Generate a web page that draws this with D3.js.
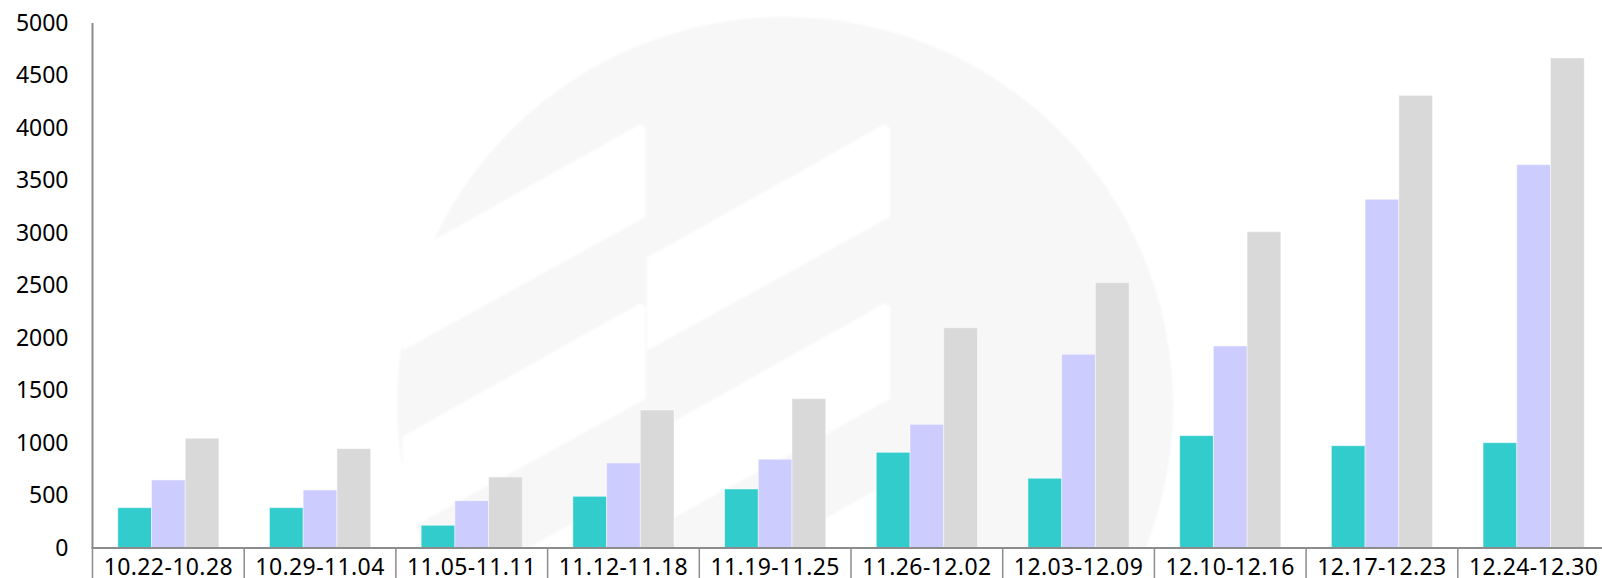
<!DOCTYPE html>
<html>
<head>
<meta charset="utf-8">
<script src="https://cdn.jsdelivr.net/npm/d3@7"></script>
<style>
  html, body { margin: 0; padding: 0; background: #fff; overflow: hidden; }
  svg { display: block; }
  text { font-family: "Noto Sans", "DejaVu Sans", sans-serif; fill: #000; }
</style>
</head>
<body>
<div id="chart"></div>
<script>
// Data
const weeks = ["10.22-10.28", "10.29-11.04", "11.05-11.11", "11.12-11.18", "11.19-11.25",
               "11.26-12.02", "12.03-12.09", "12.10-12.16", "12.17-12.23", "12.24-12.30"];
const seriesNames = ["s1", "s2", "s3"];
const s1Values = [384, 384, 216, 492, 562, 911, 664, 1070, 974, 1003];
const s2Values = [648, 552, 450, 810, 845, 1178, 1845, 1924, 3321, 3651];
const s3Values = [1045, 946, 676, 1314, 1422, 2098, 2527, 3012, 4311, 4667];
const yTicks = [0, 500, 1000, 1500, 2000, 2500, 3000, 3500, 4000, 4500, 5000];
const colors = ["#33cccc", "#ccccff", "#d9d9d9"];

const width = 1602, height = 578;
const margin = {top: 23, left: 92.5, bottom: 30};
const plotBottom = height - margin.bottom; // 548
const bandW = 151.7;

const svg = d3.select("#chart").append("svg")
    .attr("width", width)
    .attr("height", height);

const defs = svg.append("defs");
defs.append("clipPath").attr("id", "plotclip")
  .append("rect").attr("x", 0).attr("y", 0).attr("width", width).attr("height", plotBottom);
defs.append("filter").attr("id", "soft")
  .append("feGaussianBlur").attr("stdDeviation", 1.2);

// background watermark (faint circle logo)
const wm = svg.append("g").attr("clip-path", "url(#plotclip)")
  .append("g").attr("filter", "url(#soft)");
wm.append("circle")
    .attr("cx", 785).attr("cy", 405).attr("r", 388)
    .attr("fill", "#f7f7f7");

// white diagonal stripes of the logo, two columns
const stripeCols = [402.5, 647];
const stripes = [[124, 217], [303, 399], [485, 581]];
const colW = 243, drop = 133.6;
stripeCols.forEach(x0 => {
  stripes.forEach(([t, b]) => {
    const x1 = x0 + colW;
    wm.append("path")
      .attr("d", `M${x0},${t + drop} L${x1 - 5},${t} L${x1},${t + 4} L${x1},${b} L${x0},${b + drop} Z`)
      .attr("fill", "#fff");
  });
});

// scales
const x0 = d3.scaleBand()
    .domain(weeks)
    .range([margin.left, margin.left + bandW * weeks.length])
    .padding(0);

const x1 = d3.scaleBand()
    .domain(seriesNames)
    .range([x0.bandwidth() / 6, x0.bandwidth() * 5 / 6])
    .padding(0);

const y = d3.scaleLinear()
    .domain([0, 5000])
    .range([plotBottom, margin.top]);

// bars
const table = weeks.map((w, i) => ({
  week: w,
  vals: [s1Values[i], s2Values[i], s3Values[i]]
}));

const groups = svg.append("g")
  .selectAll("g")
  .data(table)
  .join("g")
    .attr("transform", d => `translate(${x0(d.week)},0)`);

groups.selectAll("rect")
  .data(d => d.vals.map((v, k) => ({key: seriesNames[k], value: v, k: k})))
  .join("rect")
    .attr("x", d => x1(d.key))
    .attr("y", d => y(d.value))
    .attr("width", x1.bandwidth())
    .attr("height", d => plotBottom - y(d.value))
    .attr("fill", d => colors[d.k])
    .attr("stroke", "rgba(255,255,255,0.45)")
    .attr("stroke-width", 1);

// y axis
const yAxis = svg.append("g")
    .attr("transform", `translate(${margin.left},0)`)
    .call(d3.axisLeft(y).tickValues(yTicks).tickSize(0).tickPadding(24).tickFormat(d3.format("d")));
yAxis.select(".domain").attr("stroke", "#8c8c8c").attr("stroke-width", 2)
    .attr("d", `M0,${margin.top}V${plotBottom}`);
yAxis.selectAll(".tick text")
    .attr("font-size", 23)
    .attr("font-family", '"Noto Sans", sans-serif')
    .attr("fill", "#000");

// x axis: baseline with cell dividers and labels
const xAxis = svg.append("g");
xAxis.append("line")
    .attr("x1", margin.left - 1).attr("x2", width)
    .attr("y1", plotBottom).attr("y2", plotBottom)
    .attr("stroke", "#8c8c8c").attr("stroke-width", 2);

xAxis.selectAll("line.div")
  .data(weeks)
  .join("line")
    .attr("class", "div")
    .attr("x1", d => x0(d)).attr("x2", d => x0(d))
    .attr("y1", plotBottom).attr("y2", height)
    .attr("stroke", "#8c8c8c").attr("stroke-width", 1.5);

xAxis.selectAll("text")
  .data(weeks)
  .join("text")
    .attr("x", d => x0(d) + x0.bandwidth() / 2)
    .attr("y", 574.5)
    .attr("text-anchor", "middle")
    .attr("font-size", 23)
    .attr("letter-spacing", 0.4)
    .text(d => d);
</script>
</body>
</html>
